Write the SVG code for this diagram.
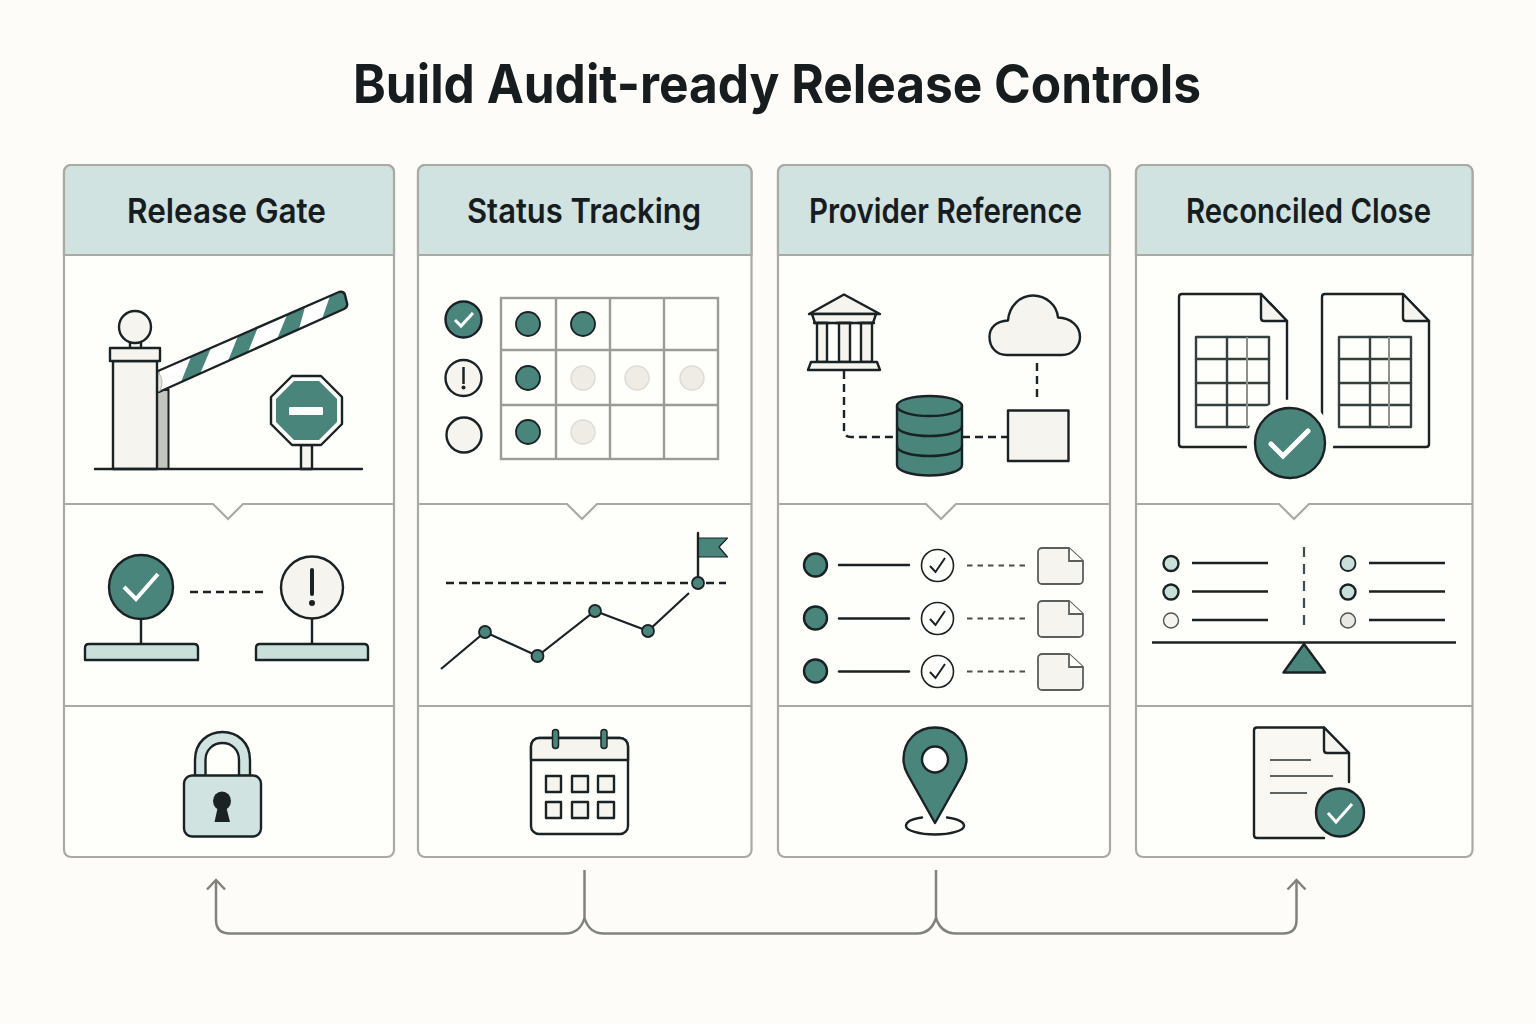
<svg xmlns="http://www.w3.org/2000/svg" width="1536" height="1024" viewBox="0 0 1536 1024">
<defs>
<style>
.card{fill:#fefefb;stroke:#a9aaa4;stroke-width:2.200}
.head{fill:#d1e3e1;stroke:#a9aaa4;stroke-width:2.200}
.div{fill:none;stroke:#a9aaa4;stroke-width:2.200}
.notch{fill:#fefefb;stroke:none}
.hd{font-family:"Inter","Liberation Sans",sans-serif;font-weight:600;font-size:34px;fill:#171d1f}
.k{stroke:#1a2224;stroke-width:2.400;fill:none;stroke-linejoin:round;stroke-linecap:round}
.t{stroke:#1a2224;stroke-width:2.400;fill:#4a857b;stroke-linejoin:round}
.c{stroke:#1a2224;stroke-width:2.400;fill:#f6f4ee;stroke-linejoin:round}
.m{stroke:#1a2224;stroke-width:2.400;fill:#c8dfda;stroke-linejoin:round}
.w{stroke:#1a2224;stroke-width:2.400;fill:#fefefb;stroke-linejoin:round}
.d{stroke:#1a2224;stroke-width:2.400;fill:none;stroke-dasharray:8 5}
.ck{stroke:#fff;stroke-width:4;fill:none;stroke-linejoin:miter}
.grid{stroke:#9a9c96;stroke-width:2.400;fill:none}
.off{fill:#eeece5;stroke:#dddcd5;stroke-width:1.500}
.conn{fill:none;stroke:#80827c;stroke-width:2.500}
</style>
<marker id="arrow" markerUnits="userSpaceOnUse" markerWidth="24" markerHeight="24" refX="12" refY="12" orient="auto">
<path d="M2.500 3 L12 12 L2.500 21" fill="none" stroke="#80827c" stroke-width="2.500"/>
</marker>
</defs>
<rect width="1536" height="1024" fill="#fdfcf8"/>
<text id="title" x="353" y="103" textLength="848" lengthAdjust="spacingAndGlyphs" font-family="Inter, 'Liberation Sans', sans-serif" font-weight="700" font-size="54" fill="#171d1f">Build Audit-ready Release Controls</text>

<g id="card-release-gate">
<rect class="card" x="64" y="165" width="330" height="692" rx="7"/>
<path class="head" d="M64 255V172a7 7 0 0 1 7-7H387a7 7 0 0 1 7 7V255Z"/>
<text class="hd" x="127" y="223" textLength="199" lengthAdjust="spacingAndGlyphs">Release Gate</text>
<rect x="157" y="390" width="11.500" height="79" fill="#c4c5bf" stroke="#1a2224" stroke-width="2"/>
<path d="M158 371L339 292Q344 291 345 295L347 303Q348 307 344 309L159 392Z" fill="#fff"/>
<path fill="#4a857b" d="M191 357L211 348L200 374L181 382ZM238 336L258 327L248 352L228 361ZM287 315L305 307L299 329L277 339ZM330 296L339 293Q344 291 345 295L347 303Q348 307 344 309L322 319Z"/>
<path d="M158 371L339 292Q344 291 345 295L347 303Q348 307 344 309L159 392Z" fill="none" stroke="#1a2224" stroke-width="2.400" stroke-linejoin="round"/>
<path d="M158 372Q165 380 160 391L157 391Z" fill="#e4e3dc" stroke="#b5b5ae"/>
<rect class="c" x="113" y="361" width="44" height="108"/>
<rect class="c" x="130" y="342" width="11" height="7"/>
<rect class="c" x="110" y="348" width="50" height="13"/>
<circle class="c" cx="135" cy="327" r="16"/>
<rect class="c" x="301" y="445" width="11" height="24"/>
<path class="w" d="M292 376H321L342 397V424L321 445H292L271 424V397Z"/>
<path fill="#4a857b" d="M294 381H319L337 399V422L319 440H294L276 422V399Z"/>
<rect x="289" y="407" width="34" height="8" rx="1" fill="#fff"/>
<path class="k" d="M95 469H362"/>
<path class="notch" d="M213 502H243V505L228 519L213 505Z"/>
<path class="div" d="M64 504H213L228 519L243 504H394"/>
<path class="div" d="M64 706H394"/>
<circle class="t" cx="141" cy="587" r="32"/>
<path class="ck" d="M124 587L136 599L158 574"/>
<path class="k" d="M141 619V644"/>
<path class="m" d="M85 660V648Q85 644 89 644H194Q198 644 198 648V660Z"/>
<path class="d" d="M190 592H264"/>
<circle class="c" cx="312" cy="587.500" r="31"/>
<path d="M312 570V594" stroke="#1a2224" stroke-width="4" stroke-linecap="round"/>
<circle cx="312" cy="603" r="3" fill="#1a2224"/>
<path class="k" d="M312 619V644"/>
<path class="m" d="M256 660V648Q256 644 260 644H364Q368 644 368 648V660Z"/>
<path d="M195 776V760C195 742 208 732 222.500 732C237 732 250 742 250 760V776H239V760C239 750 232 743 222.500 743C213 743 205.500 750 205.500 760V776Z" fill="#d1e3e1" stroke="#1a2224" stroke-width="2.400"/>
<rect x="184" y="775.500" width="77" height="61" rx="8" fill="#d1e3e1" stroke="#1a2224" stroke-width="2.400"/>
<ellipse cx="222" cy="801" rx="9" ry="9.500" fill="#1a2224"/>
<path d="M218 806H226L230 822H214.500Z" fill="#1a2224"/>
</g>

<g id="card-status-tracking">
<rect class="card" x="418" y="165" width="333.500" height="692" rx="7"/>
<path class="head" d="M418 255V172a7 7 0 0 1 7-7H744.500a7 7 0 0 1 7 7V255Z"/>
<text class="hd" x="467" y="223" textLength="234" lengthAdjust="spacingAndGlyphs">Status Tracking</text>
<rect class="grid" x="501" y="298" width="217" height="161"/>
<path class="grid" d="M556 298V459M610 298V459M664 298V459M501 350H718M501 405H718"/>
<circle class="t" cx="528" cy="324" r="12" style="stroke-width:1.800"/>
<circle class="t" cx="583" cy="324" r="12" style="stroke-width:1.800"/>
<circle class="t" cx="528" cy="378" r="12" style="stroke-width:1.800"/>
<circle class="t" cx="528" cy="432" r="12" style="stroke-width:1.800"/>
<circle class="off" cx="583" cy="378" r="12"/>
<circle class="off" cx="637" cy="378" r="12"/>
<circle class="off" cx="692" cy="378" r="12"/>
<circle class="off" cx="583" cy="432" r="12"/>
<circle class="t" cx="463.500" cy="319.500" r="18"/>
<path d="M455 320L461 326L473 313" fill="none" stroke="#fff" stroke-width="3"/>
<circle class="c" cx="463.500" cy="378" r="18"/>
<path d="M463.500 367V384" stroke="#1a2224" stroke-width="2.500"/>
<circle cx="463.500" cy="387.500" r="2" fill="#1a2224"/>
<circle class="c" cx="464" cy="435" r="17.500"/>
<path class="notch" d="M567 502H597V505L582 519L567 505Z"/>
<path class="div" d="M418 504H567L582 519L597 504H751.500"/>
<path class="div" d="M418 706H751.500"/>
<path class="d" d="M446 583H726"/>
<path d="M441 669L485 632L537.500 656L595 611L648 631L689 593" fill="none" stroke="#1a2224" stroke-width="2.200"/>
<path class="k" d="M698 533V583"/>
<path class="t" d="M698.500 538H727.500L719 547L727.500 557H698.500Z" style="stroke-width:1.200"/>
<circle class="t" cx="485" cy="632" r="6" style="stroke-width:1.800"/>
<circle class="t" cx="537.500" cy="656" r="6" style="stroke-width:1.800"/>
<circle class="t" cx="595" cy="611" r="6" style="stroke-width:1.800"/>
<circle class="t" cx="648" cy="631" r="6" style="stroke-width:1.800"/>
<circle class="t" cx="698" cy="583" r="6" style="stroke-width:1.800"/>
<rect class="w" x="531" y="738" width="97" height="96" rx="8"/>
<path class="c" d="M531 760V746a8 8 0 0 1 8-8H620a8 8 0 0 1 8 8V760Z"/>
<rect class="t" x="552.500" y="729.500" width="6" height="19" rx="3" style="stroke-width:1.500"/>
<rect class="t" x="601" y="729.500" width="6" height="19" rx="3" style="stroke-width:1.500"/>
<rect class="c" x="546" y="776" width="15" height="16"/>
<rect class="c" x="572" y="776" width="16" height="16"/>
<rect class="c" x="598" y="776" width="16" height="16"/>
<rect class="c" x="546" y="802" width="15" height="16"/>
<rect class="c" x="572" y="802" width="16" height="16"/>
<rect class="c" x="598" y="802" width="16" height="16"/>
</g>

<g id="card-provider-reference">
<rect class="card" x="778" y="165" width="332" height="692" rx="7"/>
<path class="head" d="M778 255V172a7 7 0 0 1 7-7H1103a7 7 0 0 1 7 7V255Z"/>
<text class="hd" x="809" y="223" textLength="273" lengthAdjust="spacingAndGlyphs">Provider Reference</text>
<path class="c" d="M844 294.500L880 314H809Z"/>
<path class="c" d="M812 314H876L873 323H815Z"/>
<rect class="c" x="817" y="323" width="10" height="39"/>
<rect class="c" x="839" y="323" width="11" height="39"/>
<rect class="c" x="861" y="323" width="11" height="39"/>
<path class="k" d="M814 323H829M836 323H852M858 323H874"/>
<path class="c" d="M811 362H877L880 370H808Z"/>
<path class="d" d="M844 371V430Q844 437 851 437H897"/>
<path class="c" d="M1007 355C996 355 989.500 347 989.500 337C989.500 327 997 321 1008 320.500C1009 306 1020 295.500 1033 295.500C1046 295.500 1057 305 1058 317.500C1071 318 1080 326 1080 337C1080 347 1072 355 1062 355Z"/>
<path class="d" d="M1037 363V402"/>
<path class="d" d="M962 437H1008"/>
<rect class="c" x="1008" y="410.500" width="60.500" height="50.500"/>
<path class="t" d="M897 406V465C897 471 912 475.500 929.500 475.500C947 475.500 962 471 962 465V406Z"/>
<ellipse class="t" cx="929.500" cy="406" rx="32.500" ry="10"/>
<path class="k" d="M897 426C897 432 912 436 929.500 436C947 436 962 432 962 426M897 446C897 452 912 456 929.500 456C947 456 962 452 962 446"/>
<path class="notch" d="M926 502H956V505L941 519L926 505Z"/>
<path class="div" d="M778 504H926L941 519L956 504H1110"/>
<path class="div" d="M778 706H1110"/>
<g id="rows">
<circle class="t" cx="815.500" cy="565" r="11.500"/>
<path class="k" d="M839 565H909"/>
<circle class="w" cx="937.500" cy="565.500" r="16" style="stroke-width:1.600"/>
<path d="M930 566L935.500 572L945 558" fill="none" stroke="#1a2224" stroke-width="2"/>
<path d="M967 565.500H1026" fill="none" stroke="#4a4f4e" stroke-width="1.800" stroke-dasharray="5.500 5"/>
<path d="M1038 552a4 4 0 0 1 4-4H1069L1083 561V580a4 4 0 0 1-4 4H1042a4 4 0 0 1-4-4Z" fill="#f6f4ee" stroke="#5a5f5e" stroke-width="1.800"/>
<path d="M1069 548V561H1083" fill="#fefefb" stroke="#5a5f5e" stroke-width="1.800"/>
<circle class="t" cx="815.500" cy="618" r="11.500"/>
<path class="k" d="M839 618.500H909"/>
<circle class="w" cx="937.500" cy="618.500" r="16" style="stroke-width:1.600"/>
<path d="M930 619L935.500 625L945 611" fill="none" stroke="#1a2224" stroke-width="2"/>
<path d="M967 618.500H1026" fill="none" stroke="#4a4f4e" stroke-width="1.800" stroke-dasharray="5.500 5"/>
<path d="M1038 605a4 4 0 0 1 4-4H1069L1083 614V633a4 4 0 0 1-4 4H1042a4 4 0 0 1-4-4Z" fill="#f6f4ee" stroke="#5a5f5e" stroke-width="1.800"/>
<path d="M1069 601V614H1083" fill="#fefefb" stroke="#5a5f5e" stroke-width="1.800"/>
<circle class="t" cx="815.500" cy="671" r="11.500"/>
<path class="k" d="M839 671.500H909"/>
<circle class="w" cx="937.500" cy="671.500" r="16" style="stroke-width:1.600"/>
<path d="M930 672L935.500 678L945 664" fill="none" stroke="#1a2224" stroke-width="2"/>
<path d="M967 671.500H1026" fill="none" stroke="#4a4f4e" stroke-width="1.800" stroke-dasharray="5.500 5"/>
<path d="M1038 658a4 4 0 0 1 4-4H1069L1083 667V686a4 4 0 0 1-4 4H1042a4 4 0 0 1-4-4Z" fill="#f6f4ee" stroke="#5a5f5e" stroke-width="1.800"/>
<path d="M1069 654V667H1083" fill="#fefefb" stroke="#5a5f5e" stroke-width="1.800"/>
</g>
<path class="k" d="M922 817.500C911 819 906 822 906 826C906 830.500 919 834.500 935 834.500C951 834.500 964 830.500 964 826C964 822 958 819 947 817.500"/>
<path class="t" d="M935 823L908 775C905 770 903.500 765 903.500 759C903.500 741 917 727.500 935 727.500C953 727.500 966.500 741 966.500 759C966.500 765 965 770 962 775Z"/>
<circle cx="935" cy="759.500" r="13" fill="#fff" stroke="#1a2224" stroke-width="2.400"/>
</g>

<g id="card-reconciled-close">
<rect class="card" x="1136" y="165" width="336.500" height="692" rx="7"/>
<path class="head" d="M1136 255V172a7 7 0 0 1 7-7H1465.500a7 7 0 0 1 7 7V255Z"/>
<text class="hd" x="1186" y="223" textLength="245" lengthAdjust="spacingAndGlyphs">Reconciled Close</text>
<path class="k" d="M1287 321L1261 294H1182Q1179 294 1179 297V444Q1179 447 1182 447H1290M1287 321V447"/>
<path class="c" d="M1261 294V318Q1261 321 1264 321H1287Z"/>
<rect class="k" x="1196" y="337" width="73" height="90" style="stroke:#33403f"/>
<path class="k" d="M1227 337V427M1196 359H1269M1196 383H1269M1196 405H1269" style="stroke:#33403f"/>
<path d="M1247 337V427" stroke="#8d908b" stroke-width="2"/>
<path class="k" d="M1429 321L1403 294H1325Q1322 294 1322 297V444Q1322 447 1325 447H1426Q1429 447 1429 444V321"/>
<path class="c" d="M1403 294V318Q1403 321 1406 321H1429Z"/>
<rect class="k" x="1339" y="337" width="72" height="90" style="stroke:#33403f"/>
<path class="k" d="M1370 337V427M1339 359H1411M1339 383H1411M1339 405H1411" style="stroke:#33403f"/>
<path d="M1389 337V427" stroke="#8d908b" stroke-width="2"/>
<circle cx="1290" cy="443" r="43.500" fill="#fefefb"/>
<circle class="t" cx="1290" cy="443" r="35"/>
<path d="M1271 444L1283 456L1308 431" fill="none" stroke="#fff" stroke-width="5" stroke-linecap="round" stroke-linejoin="miter"/>
<path class="notch" d="M1279 502H1309V505L1294 519L1279 505Z"/>
<path class="div" d="M1136 504H1279L1294 519L1309 504H1472.500"/>
<path class="div" d="M1136 706H1472.500"/>
<circle class="m" cx="1171" cy="563.500" r="7.500"/>
<circle class="m" cx="1171" cy="592" r="7.500"/>
<circle class="c" cx="1171" cy="620.500" r="7.500" style="stroke:#4f5453;stroke-width:1.400"/>
<path class="k" d="M1192 563H1268M1192 591.500H1268M1192 620H1268" style="stroke-linecap:butt"/>
<circle class="m" cx="1348" cy="563.500" r="7.500" style="stroke-width:1.800"/>
<circle class="m" cx="1348" cy="592" r="7.500"/>
<circle class="off" cx="1348" cy="620.500" r="7.500" style="stroke:#4f5453;fill:#e9e8e2"/>
<path class="k" d="M1369 563H1445M1369 591.500H1445M1369 620H1445" style="stroke-linecap:butt"/>
<path d="M1304 547V632" fill="none" stroke="#3f4d4e" stroke-width="2.200" stroke-dasharray="10 7"/>
<path class="k" d="M1152 642.500H1456" style="stroke-linecap:butt"/>
<path class="t" d="M1304 644L1325 672.500H1283.500Z"/>
<path d="M1257 727.500H1324L1349 753V838H1257Q1254 838 1254 835V730.500Q1254 727.500 1257 727.500Z" fill="#f9f8f3"/>
<path class="k" d="M1349 782V753L1324 727.500H1257Q1254 727.500 1254 730.500V835Q1254 838 1257 838H1324"/>
<path class="c" d="M1324 727.500V750Q1324 753 1327 753H1349Z"/>
<path d="M1270 760H1311M1270 776H1333M1270 793H1307" stroke="#5d6463" stroke-width="1.800"/>
<circle cx="1340" cy="812.500" r="24" fill="#4a857b" stroke="#1a2224" stroke-width="2.400"/>
<path d="M1328 813L1336 822L1352 804" fill="none" stroke="#fff" stroke-width="3"/>
</g>

<g id="connectors">
<path class="conn" d="M584.500 870V918Q580 933.500 565 933.500H230Q216 933.500 216 920V880" marker-end="url(#arrow)"/>
<path class="conn" d="M936 870V918Q931 933.500 917 933.500H604Q589 933.500 584.500 918"/>
<path class="conn" d="M936 918Q941 933.500 956 933.500H1283Q1296.500 933.500 1296.500 920V880" marker-end="url(#arrow)"/>
</g>
</svg>
